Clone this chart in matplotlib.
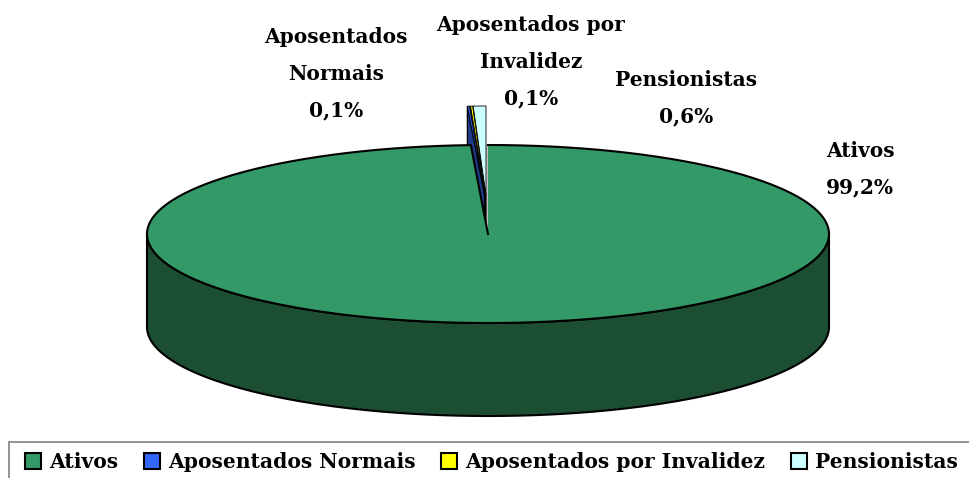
import matplotlib
matplotlib.use('Agg')
import matplotlib.pyplot as plt
import numpy as np
from matplotlib.patches import Polygon, Patch, Rectangle

categories = ['Ativos', 'Aposentados Normais', 'Aposentados por Invalidez', 'Pensionistas']
values = [99.2, 0.1, 0.1, 0.6]
value_labels = ['99,2%', '0,1%', '0,1%', '0,6%']
label_names = ['Ativos', 'Aposentados\nNormais', 'Aposentados por\nInvalidez', 'Pensionistas']

top_colors = ['#339966', '#3366ff', '#ffff00', '#ccffff']
wall_colors = ['#1c4e33', '#1c3a86', '#1c3a86', '#1c3a86']

# pie geometry in pixels
cx, cy = 488, 234
rx, ry = 341, 89
depth = 93
lift = 39
shift = [0, -3.5, -2.5, -2]
label_pos = [(860, 169), (336, 74), (531, 62), (686, 98)]

fig = plt.figure(figsize=(9.7, 4.78), dpi=100)
ax = fig.add_axes([0, 0, 1, 1])
ax.set_xlim(0, 970)
ax.set_ylim(478, 0)
ax.axis('off')

font = {'family': 'DejaVu Serif', 'weight': 'bold', 'size': 14.5}


def rim(t):
    # t is the angle clockwise from 12 o'clock
    t = np.asarray(t)
    return np.column_stack([cx + rx * np.sin(t), cy - ry * np.cos(t)])


edges = np.cumsum([0] + values) / sum(values) * 2 * np.pi

# grey cut face seen through the gap
ax.add_patch(Polygon([(486, 145), (488.5, 145), (488.5, cy), (487, cy)], fc='#c0c0c0', ec='none', zorder=1))

# the small slices, pulled upwards, behind the big one
for i in [3, 2, 1]:
    off = np.array([shift[i], -lift])
    arc = rim(np.linspace(edges[i], edges[i + 1], 8)) + off
    apex = np.array([cx, cy]) + off
    left = arc[0]
    wall = [left, apex, apex + [0, depth], left + [0, depth]]
    ax.add_patch(Polygon(wall, fc=wall_colors[i], ec='k', lw=0.9, zorder=2))
for i in [1, 3, 2]:
    off = np.array([shift[i], -lift])
    arc = rim(np.linspace(edges[i], edges[i + 1], 8)) + off
    apex = np.array([cx, cy]) + off
    ax.add_patch(Polygon(np.vstack([apex, arc]), fc=top_colors[i], ec='k', lw=0.6, zorder=3))

# big slice: side wall then top face
t = np.linspace(np.pi / 2, 3 * np.pi / 2, 200)
front = rim(t)
ax.add_patch(Polygon(np.vstack([front, (front + [0, depth])[::-1]]), fc=wall_colors[0], ec='k', lw=1.5, zorder=4))
arc = rim(np.linspace(edges[0], edges[1], 400))
ax.add_patch(Polygon(np.vstack([[cx, cy], arc]), fc=top_colors[0], ec='none', zorder=5))
ax.plot(np.r_[arc[:, 0], cx], np.r_[arc[:, 1], cy], color='k', lw=1.5, zorder=5.5)

# data labels
for name, val, pos in zip(label_names, value_labels, label_pos):
    ax.text(pos[0], pos[1], name + '\n' + val, ha='center', va='center', linespacing=2.05, zorder=6, **font)

# legend box runs off the right and bottom of the picture
ax.add_patch(Rectangle((9, 442), 980, 60, fc='white', ec='#808080', lw=1.2, zorder=6, clip_on=True))
handles = [Patch(fc=c, ec='k', lw=1.5, label=n) for c, n in zip(top_colors, categories)]
leg = ax.legend(handles=handles, ncol=4, loc='upper left', bbox_to_anchor=(25 / 970, 1 - 452 / 478), borderaxespad=0,
                prop={'family': 'DejaVu Serif', 'weight': 'bold', 'size': 14.6}, handlelength=0.8, handleheight=0.8,
                handletextpad=0.4, columnspacing=1.25, frameon=False, borderpad=0)
leg.set_zorder(7)

fig.savefig('out.png', dpi=100)
